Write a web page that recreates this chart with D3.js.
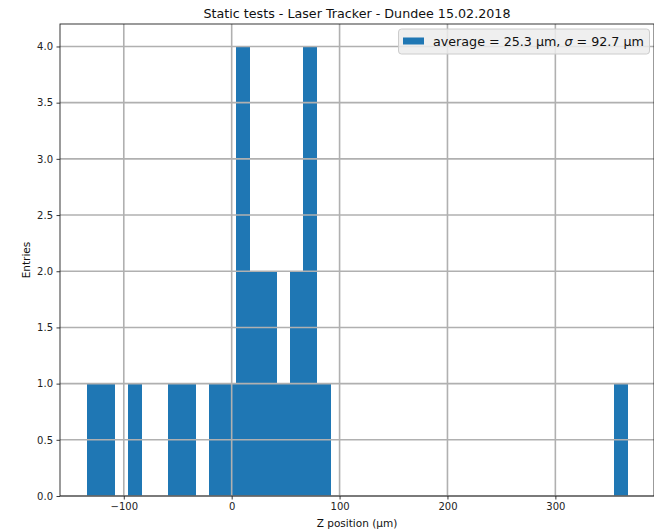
<!DOCTYPE html>
<html>
<head>
<meta charset="utf-8">
<script src="https://cdn.jsdelivr.net/npm/d3@7"></script>
<style>
  body { margin: 0; background: #fff; }
  svg { display: block; font-family: "DejaVu Sans", sans-serif; }
</style>
</head>
<body>
<svg id="chart" width="654" height="532"></svg>
<script>
// histogram: 40 equal bins between the lowest and highest measurement
const binLow = -134.1;
const binHigh = 366.4;
const counts = [1, 1, 0, 1, 0, 0, 1, 1, 0, 1,
                1, 4, 2, 2, 1, 2, 4, 1, 0, 0,
                0, 0, 0, 0, 0, 0, 0, 0, 0, 0,
                0, 0, 0, 0, 0, 0, 0, 0, 0, 1];
const xTicks = [-100, 0, 100, 200, 300];
const yTicks = [0, 0.5, 1, 1.5, 2, 2.5, 3, 3.5, 4];
const title = 'Static tests - Laser Tracker - Dundee 15.02.2018';
const legendMean = 25.3;
const legendSigma = 92.7;

const margin = {top: 24, right: 0, bottom: 36, left: 60};
const width = 654, height = 532;

const svg = d3.select('#chart');

const binW = (binHigh - binLow) / counts.length;
const bins = counts.map((c, i) => ({x0: binLow + i * binW, x1: binLow + (i + 1) * binW, n: c}));

// 5% padding like matplotlib autoscale
const pad = (binHigh - binLow) * 0.05;
const x = d3.scaleLinear()
    .domain([binLow - pad, binHigh + pad])
    .range([margin.left, width - margin.right]);
const y = d3.scaleLinear()
    .domain([0, 4.2])
    .range([height - margin.bottom, margin.top]);

// the bars (crisp edges so neighbouring bins join without seams)
svg.append('g')
    .attr('shape-rendering', 'crispEdges')
    .selectAll('rect')
    .data(bins.filter(b => b.n > 0))
    .enter()
    .append('rect')
    .attr('x', d => x(d.x0))
    .attr('width', d => x(d.x1) - x(d.x0) + 0.5)
    .attr('y', d => y(d.n))
    .attr('height', d => y(0) - y(d.n))
    .attr('fill', '#1f77b4');

// grid drawn over the bars
const grid = svg.append('g').attr('stroke', '#b0b0b0').attr('stroke-width', 1.6);
grid.selectAll('.gx').data(xTicks).enter().append('line')
    .attr('x1', d => x(d)).attr('x2', d => x(d))
    .attr('y1', margin.top).attr('y2', height - margin.bottom);
grid.selectAll('.gy').data(yTicks).enter().append('line')
    .attr('x1', margin.left).attr('x2', width - margin.right)
    .attr('y1', d => y(d)).attr('y2', d => y(d));

// axes
const xAxis = svg.append('g')
    .attr('transform', `translate(0,${height - margin.bottom})`)
    .call(d3.axisBottom(x).tickValues(xTicks).tickSize(3.5).tickPadding(3.5).tickFormat(d3.format('d')));
const yAxis = svg.append('g')
    .attr('transform', `translate(${margin.left},0)`)
    .call(d3.axisLeft(y).tickValues(yTicks).tickSize(3.5).tickPadding(3.5).tickFormat(d3.format('.1f')));
[xAxis, yAxis].forEach(a => {
    a.select('.domain').remove();
    a.selectAll('.tick line').attr('stroke', '#222').attr('stroke-width', 0.9);
    a.selectAll('.tick text').attr('fill', '#222').attr('font-size', 10)
        .attr('font-family', '"DejaVu Sans", sans-serif');
});

// spines
svg.append('rect')
    .attr('x', margin.left).attr('y', margin.top)
    .attr('width', width - margin.right - margin.left)
    .attr('height', height - margin.bottom - margin.top)
    .attr('fill', 'none').attr('stroke', '#222').attr('stroke-width', 0.9);

// title and labels
svg.append('text')
    .attr('x', (margin.left + width - margin.right) / 2).attr('y', 18)
    .attr('text-anchor', 'middle').attr('font-size', 12.7).attr('fill', '#111')
    .text(title);
svg.append('text')
    .attr('x', (margin.left + width - margin.right) / 2).attr('y', 527)
    .attr('text-anchor', 'middle').attr('font-size', 10.5).attr('fill', '#111')
    .text('Z position (µm)');
svg.append('text')
    .attr('transform', `translate(30,${(margin.top + height - margin.bottom) / 2}) rotate(-90)`)
    .attr('text-anchor', 'middle').attr('font-size', 10.5).attr('fill', '#111')
    .text('Entries');

// legend
const legend = svg.append('g');
legend.append('rect')
    .attr('x', 398.5).attr('y', 29).attr('width', 251).attr('height', 25)
    .attr('rx', 3).attr('ry', 3)
    .attr('fill', '#ececec').attr('fill-opacity', 0.85)
    .attr('stroke', '#cccccc').attr('stroke-width', 1);
legend.append('rect')
    .attr('x', 403).attr('y', 37.5).attr('width', 21).attr('height', 7)
    .attr('fill', '#1f77b4');
const lt = legend.append('text')
    .attr('x', 433).attr('y', 46).attr('font-size', 12.7).attr('fill', '#111');
lt.append('tspan').text(`average = ${legendMean} µm, `);
lt.append('tspan').attr('font-style', 'italic').text('σ');
lt.append('tspan').text(` = ${legendSigma} µm`);
</script>
</body>
</html>
